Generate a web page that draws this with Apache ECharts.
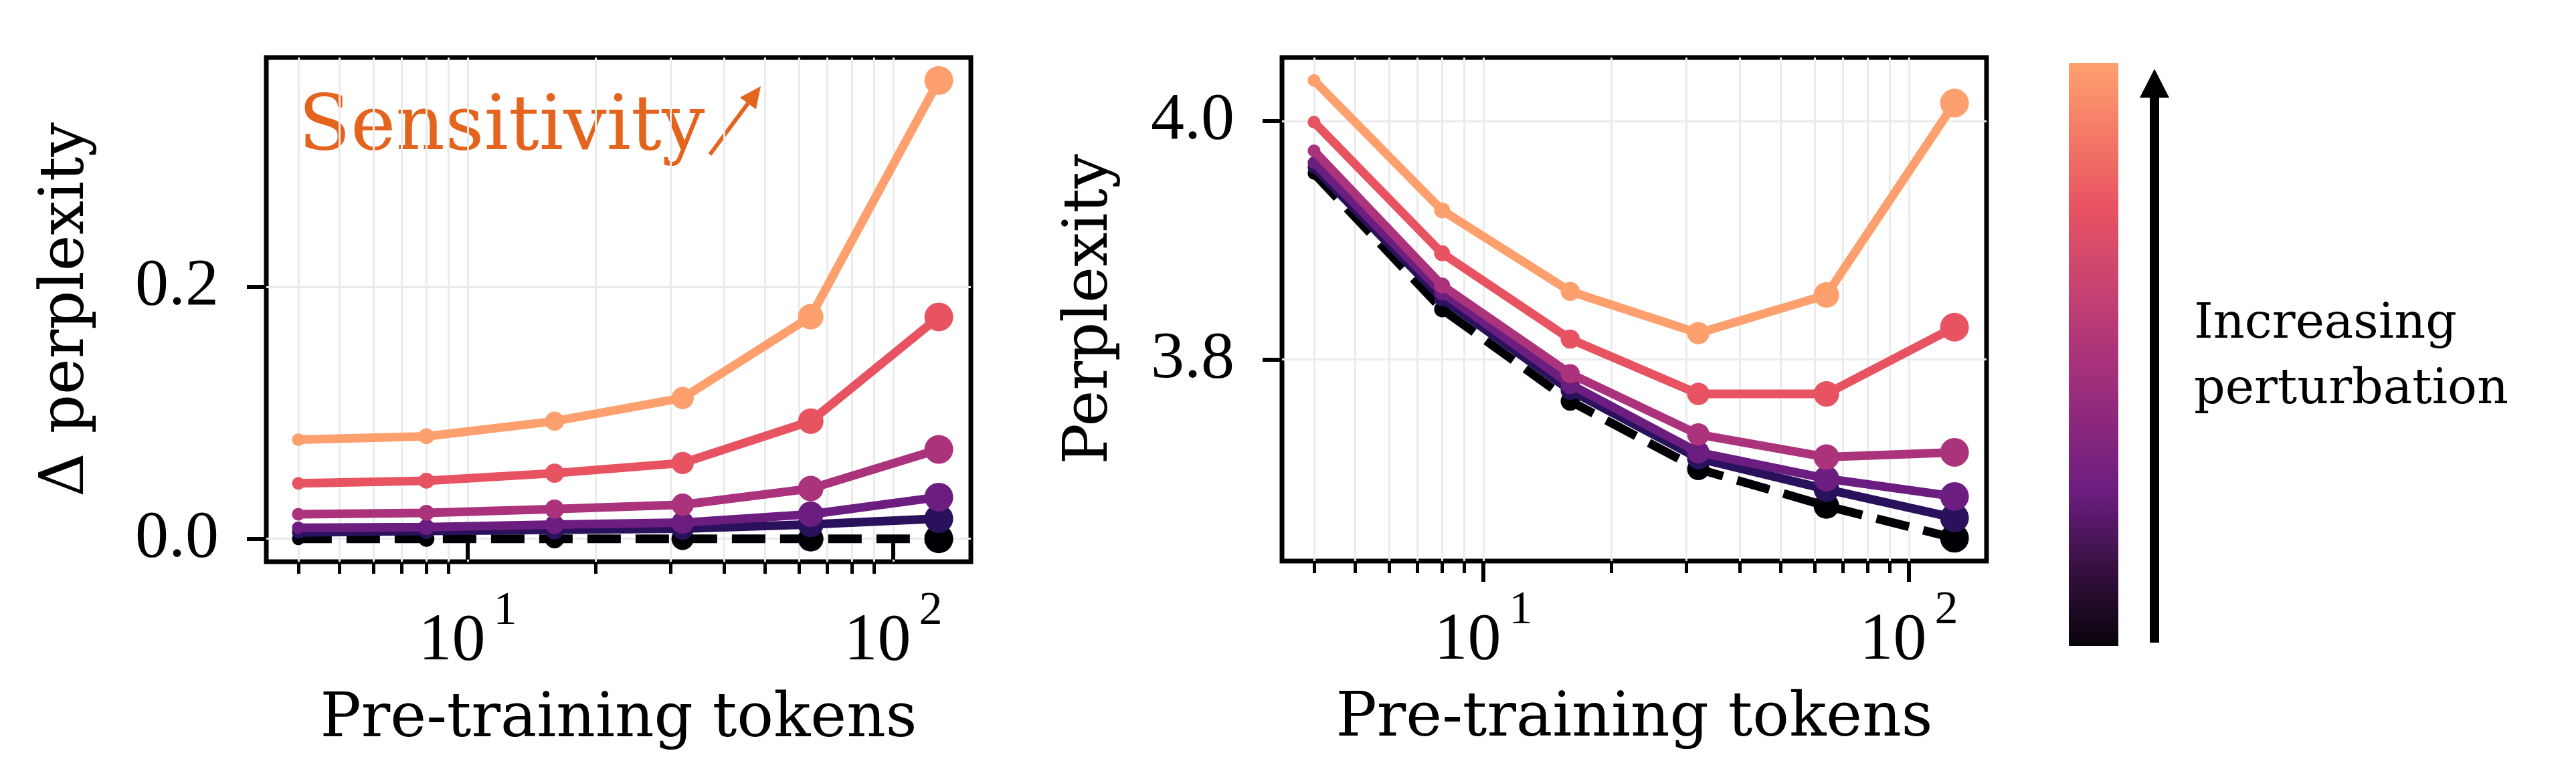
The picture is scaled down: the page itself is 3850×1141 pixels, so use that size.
<!DOCTYPE html>
<html>
<head>
<meta charset="utf-8">
<script src="https://cdn.jsdelivr.net/npm/echarts@6/dist/echarts.min.js"></script>
<style>
  html, body { margin: 0; padding: 0; background: #fff; }
  #chart { width: 3850px; height: 1141px; }
</style>
</head>
<body>
<div id="chart"></div>
<script>
// pre-training tokens (x, log scale)
const tokens = [4, 8, 16, 32, 64, 128]
const majorTicks = [10, 100]
const minorTicks = [4, 5, 6, 7, 8, 9, 20, 30, 40, 50, 60, 70, 80, 90]

// left panel: delta perplexity, lowest -> highest perturbation
const deltaBase = [0, 0, 0, 0, 0, 0]
const deltaP1 = [0.005, 0.0062, 0.0072, 0.0081, 0.0114, 0.0160]
const deltaP2 = [0.0088, 0.0093, 0.0113, 0.0128, 0.0195, 0.0331]
const deltaP3 = [0.0195, 0.0206, 0.0236, 0.0271, 0.0399, 0.0710]
const deltaP4 = [0.0440, 0.0461, 0.0521, 0.0602, 0.0934, 0.1762]
const deltaP5 = [0.0787, 0.0814, 0.0934, 0.1118, 0.1764, 0.3640]
const deltaTicks = [0, 0.2]

// right panel: perplexity
const pplBase = [3.956, 3.842, 3.765, 3.708, 3.677, 3.650]
const pplP1 = [3.961, 3.851, 3.774, 3.717, 3.691, 3.667]
const pplP2 = [3.965, 3.856, 3.779, 3.722, 3.700, 3.685]
const pplP3 = [3.975, 3.862, 3.788, 3.737, 3.718, 3.722]
const pplP4 = [3.999, 3.889, 3.817, 3.771, 3.771, 3.827]
const pplP5 = [4.034, 3.925, 3.857, 3.822, 3.854, 4.015]
const pplTicks = [3.8, 4.0]

const colors = ['#000004', '#2a115c', '#6c1d80', '#ab337c', '#e85362', '#fea06e']

const NUM_FONT = 'Liberation Serif'
const WORD_FONT = 'DejaVu Serif'

const chart = echarts.init(document.getElementById('chart'))

// x range as matplotlib would pad it (5% of log span)
const lo = Math.log10(tokens[0]), hi = Math.log10(tokens[tokens.length - 1])
const pad = (hi - lo) * 0.05
const xMin = Math.pow(10, lo - pad)
const xMax = Math.pow(10, hi + pad)

function xAxes(grid) {
	return [{
		gridIndex: grid, type: 'log', logBase: 10, min: xMin, max: xMax, position: 'bottom',
		name: 'Pre-training tokens', nameLocation: 'middle', nameGap: 192,
		nameTextStyle: { fontFamily: WORD_FONT, fontSize: 91, color: '#000' },
		axisLine: { show: false },
		axisTick: { customValues: majorTicks, length: 31, lineStyle: { color: '#000', width: 6 } },
		axisLabel: {
			customValues: majorTicks, margin: 40, color: '#000',
			formatter: v => '{b|10}{s|' + Math.round(Math.log10(v)) + '}',
			rich: {
				b: { fontFamily: NUM_FONT, fontSize: 100, lineHeight: 130, verticalAlign: 'bottom', color: '#000' },
				s: { fontFamily: NUM_FONT, fontSize: 70, lineHeight: 70, verticalAlign: 'top', padding: [0, 0, 0, 12], color: '#000' }
			}
		},
		splitLine: { show: true, lineStyle: { color: '#ebebeb', width: 3 } }
	}, {
		gridIndex: grid, type: 'log', logBase: 10, min: xMin, max: xMax, position: 'bottom',
		axisLine: { show: false },
		axisTick: { customValues: minorTicks, length: 18, lineStyle: { color: '#000', width: 5 } },
		axisLabel: { show: false },
		splitLine: { show: true, lineStyle: { color: '#ebebeb', width: 3 } }
	}]
}

function yAxis(grid, min, max, ticks, name, gap) {
	return {
		gridIndex: grid, type: 'value', min: min, max: max,
		name: name, nameLocation: 'middle', nameGap: gap,
		nameTextStyle: { fontFamily: WORD_FONT, fontSize: 91, color: '#000' },
		axisLine: { show: false },
		axisTick: { show: true, customValues: ticks, length: 29, lineStyle: { color: '#000', width: 6 } },
		axisLabel: {
			customValues: ticks, margin: 71, color: '#000',
			fontFamily: NUM_FONT, fontSize: 100,
			formatter: v => v.toFixed(1)
		},
		splitLine: { show: true, lineStyle: { color: '#ebebeb', width: 3 } }
	}
}

function series(vals, k, xi, yi, dashed) {
	return {
		type: 'line', xAxisIndex: xi, yAxisIndex: yi, z: 3 + k,
		data: tokens.map((t, i) => [t, vals[i]]),
		symbol: 'circle',
		symbolSize: (v, p) => 19 + 4.8 * p.dataIndex,
		lineStyle: { width: 13, color: colors[k], type: dashed ? [50, 22] : 'solid', cap: 'butt' },
		itemStyle: { color: colors[k] },
		silent: true, animation: false
	}
}

const leftSets = [deltaBase, deltaP1, deltaP2, deltaP3, deltaP4, deltaP5]
const rightSets = [pplBase, pplP1, pplP2, pplP3, pplP4, pplP5]

// y ranges padded 5% like matplotlib
function padded(sets) {
	const all = [].concat(...sets)
	const mn = Math.min(...all), mx = Math.max(...all)
	const p = (mx - mn) * 0.05
	return [mn - p, mx + p]
}
const yl = padded(leftSets)
const yr = padded(rightSets)

// arrow helper for annotations
function arrow(x1, y1, x2, y2, w, headLen, headHalf, color) {
	const dx = x2 - x1, dy = y2 - y1, len = Math.hypot(dx, dy)
	const ux = dx / len, uy = dy / len
	const bx = x2 - ux * headLen, by = y2 - uy * headLen
	return [{
		type: 'line', silent: true,
		shape: { x1: x1, y1: y1, x2: bx, y2: by },
		style: { stroke: color, lineWidth: w }
	}, {
		type: 'polygon', silent: true,
		shape: { points: [[x2, y2], [bx - uy * headHalf, by + ux * headHalf], [bx + uy * headHalf, by - ux * headHalf]] },
		style: { fill: color }
	}]
}

const option = {
	animation: false,
	backgroundColor: '#fff',
	grid: [
		{ left: 398, top: 86, width: 1053, height: 754, show: true, borderColor: '#000', borderWidth: 7, backgroundColor: 'transparent' },
		{ left: 1916, top: 86, width: 1053, height: 753, show: true, borderColor: '#000', borderWidth: 7, backgroundColor: 'transparent' }
	],
	xAxis: [...xAxes(0), ...xAxes(1)],
	yAxis: [
		yAxis(0, yl[0], yl[1], deltaTicks, 'Δ perplexity', 252),
		yAxis(1, yr[0], yr[1], pplTicks, 'Perplexity', 240)
	],
	series: [
		...leftSets.map((s, k) => series(s, k, 0, 0, k === 0)),
		...rightSets.map((s, k) => series(s, k, 2, 1, k === 0))
	],
	graphic: [
		{
			type: 'text', silent: true, x: 446, y: 193,
			style: { text: 'Sensitivity', fill: '#e4631d', font: '114px "' + WORD_FONT + '"', verticalAlign: 'middle' }
		},
		...arrow(1061, 231, 1137, 129, 6, 32, 15, '#e4631d'),
		{
			type: 'rect', silent: true,
			shape: { x: 3092, y: 94, width: 74, height: 872 },
			style: {
				fill: new echarts.graphic.LinearGradient(0, 1, 0, 0, [
					{ offset: 0, color: '#08040c' },
					{ offset: 0.13, color: '#35103f' },
					{ offset: 0.265, color: '#6c1d80' },
					{ offset: 0.5, color: '#ab337a' },
					{ offset: 0.62, color: '#c84370' },
					{ offset: 0.753, color: '#e85362' },
					{ offset: 0.88, color: '#f47a67' },
					{ offset: 1, color: '#fea06e' }
				])
			}
		},
		...arrow(3220, 961, 3220, 103, 14, 43, 22, '#000'),
		{
			type: 'text', silent: true, x: 3279, y: 535,
			style: { text: 'Increasing\nperturbation', fill: '#000', font: '73px "' + WORD_FONT + '"', lineHeight: 98, verticalAlign: 'middle' }
		}
	]
}

chart.setOption(option)
</script>
</body>
</html>
